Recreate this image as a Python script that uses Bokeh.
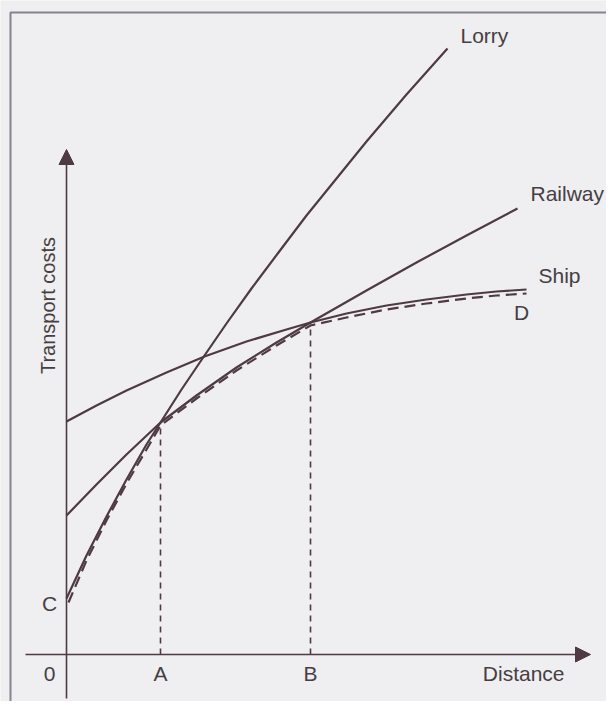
import math
from bokeh.plotting import figure
from bokeh.models import Range1d, Arrow, NormalHead
from bokeh.core.properties import value
from bokeh.embed import file_html
from bokeh.resources import INLINE

# ---- data (arbitrary units: distance from origin, transport cost) ----
lorry_dist = [0, 20, 40, 60, 80, 94, 115, 138, 160, 185, 212, 240, 270, 300, 340, 381]
lorry_cost = [56, 99, 138, 175, 210, 232, 265, 299, 331, 366, 402, 439, 476, 513, 560, 606]
rail_dist = [0, 30, 60, 94, 130, 170, 210, 244, 300, 350, 400, 451]
rail_cost = [139, 170, 200, 232, 259, 287, 312, 332, 364, 392, 419, 446]
ship_dist = [0, 30, 60, 100, 138, 180, 220, 244, 280, 320, 360, 400, 430, 460]
ship_cost = [233, 249, 264, 282, 298, 313, 325, 332, 341, 349, 355, 360, 363, 365]
env_dist = [2, 20, 40, 60, 80, 94, 130, 170, 210, 244, 280, 320, 360, 400, 430, 460]
env_cost = [52, 94, 134, 171, 205, 229, 256, 284, 309, 329, 337, 345, 351, 356, 359, 361]
break_dist = [94, 244]          # A, B
break_cost = [232, 332]
tick_labels = ["0", "A", "B"]
tick_pos = [-17, 94, 244]
series_names = ["Lorry", "Railway", "Ship"]

BG = "#efeef0"
INK = "#4e3a42"
TXT = "#453f43"
FONT = value("Liberation Sans")

p = figure(width=606, height=701, output_backend="svg", toolbar_location=None,
           x_range=Range1d(-66, 540), y_range=Range1d(-47, 654),
           min_border=0, outline_line_color=None,
           background_fill_color=BG, border_fill_color=BG)
p.axis.visible = False
p.grid.visible = False

# page frame
p.line([600, -56, -56], [642, 642, -100], line_color="#878290", line_width=2)

# axes with arrow heads
p.add_layout(Arrow(end=NormalHead(size=15, fill_color=INK, line_color=INK),
                   x_start=-41, y_start=0, x_end=524, y_end=0,
                   line_color=INK, line_width=1.6))
p.add_layout(Arrow(end=NormalHead(size=15, fill_color=INK, line_color=INK),
                   x_start=0, y_start=-44, x_end=0, y_end=505,
                   line_color=INK, line_width=1.6))

# curves
p.line(lorry_dist, lorry_cost, line_color=INK, line_width=2.2, line_join="round")
p.line(rail_dist, rail_cost, line_color=INK, line_width=2.2, line_join="round")
p.line(ship_dist, ship_cost, line_color=INK, line_width=2.2, line_join="round")
p.line(env_dist, env_cost, line_color=INK, line_width=2.2, line_dash="11 6")

# dotted verticals at A and B
for d, c in zip(break_dist, break_cost):
    p.line([d, d], [0, c], line_color=INK, line_width=1.6, line_dash="6 5")

# series labels
p.text(x=[394, 464, 472], y=[619, 461, 379], text=series_names,
       text_font=FONT, text_font_size="21px", text_color=TXT,
       text_align="left", text_baseline="middle")
p.text(x=[455], y=[342], text=["D"], text_font=FONT, text_font_size="21px",
       text_color=TXT, text_align="center", text_baseline="middle")
p.text(x=[-17], y=[51], text=["C"], text_font=FONT, text_font_size="21px",
       text_color=TXT, text_align="center", text_baseline="middle")

# tick labels
p.text(x=tick_pos, y=[-19] * 3, text=tick_labels,
       text_font=FONT, text_font_size="21px", text_color=TXT,
       text_align="center", text_baseline="middle")
p.text(x=[498], y=[-19], text=["Distance"], text_font=FONT,
       text_font_size="21px", text_color=TXT,
       text_align="right", text_baseline="middle")
p.text(x=[-19], y=[349], text=["Transport costs"], text_font=FONT,
       text_font_size="20px", text_color=TXT, angle=math.pi / 2,
       text_align="center", text_baseline="middle")

open("out.html", "w").write(file_html(p, INLINE))
